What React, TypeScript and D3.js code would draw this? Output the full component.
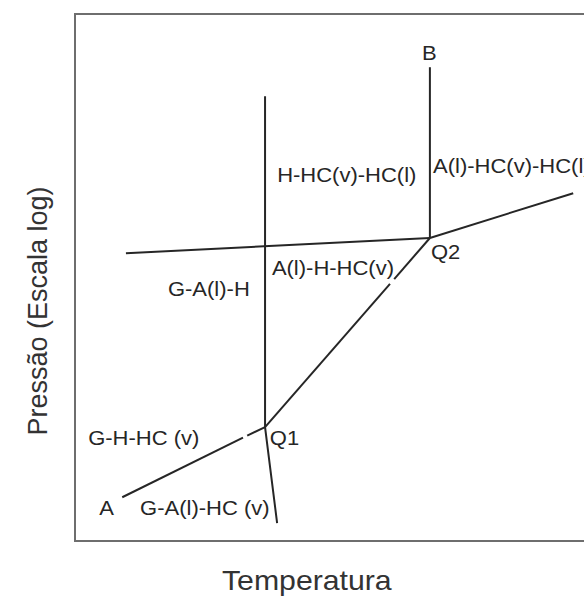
import React from 'react';
import * as d3 from 'd3';

// phase boundary segments, in arbitrary units (temperature, log pressure)
const lineA_Q1: [number, number][][] = [
  [[9.0, 8.3], [32.0, 19.6]],
  [[32.8, 20.0], [36.2, 21.6]],
];
const lineQ1_Q2: [number, number][][] = [
  [[36.2, 21.6], [60.0, 48.8]],
  [[60.8, 49.7], [67.6, 57.5]],
];
const lineQ2_right: [number, number][] = [[67.6, 57.5], [94.9, 66.0]];
const lineHoriz: [number, number][] = [[9.7, 54.6], [67.6, 57.5]];
const lineH: [number, number][] = [[36.2, 84.4], [36.2, 21.6], [38.5, 3.4]];
const lineB: [number, number][] = [[67.6, 89.9], [67.6, 57.5]];

const labelTexts = [
  'B', 'H-HC(v)-HC(l)', 'A(l)-HC(v)-HC(l)', 'Q2', 'A(l)-H-HC(v)',
  'G-A(l)-H', 'G-H-HC (v)', 'Q1', 'A', 'G-A(l)-HC (v)',
];
const labelX = [66.1, 38.5, 68.2, 67.8, 37.5, 17.7, 2.5, 37.1, 4.6, 12.4];
const labelY = [91.3, 68.1, 69.8, 53.6, 50.5, 46.5, 18.2, 18.2, 4.9, 4.9];

const xTitle = 'Temperatura';
const yTitle = 'Pressão (Escala log)';

const W = 584;
const H = 597;
const frame = { left: 75, right: 600, top: 14, bottom: 541 };

export default function App() {
  const x = d3.scaleLinear().domain([0, 100]).range([frame.left, frame.right]);
  const y = d3.scaleLinear().domain([0, 100]).range([frame.bottom, frame.top]);
  const line = d3.line<[number, number]>().x(d => x(d[0])).y(d => y(d[1]));

  const segments: [number, number][][] = [
    ...lineA_Q1,
    ...lineQ1_Q2,
    lineQ2_right,
    lineHoriz,
    lineH,
    lineB,
  ];

  const ink = '#262626';
  const font = '"Liberation Sans", Arial, sans-serif';

  return (
    <svg
      width={W}
      height={H}
      style={{ position: 'absolute', left: 0, top: 0, background: '#fff' }}
    >
      <rect width={W} height={H} fill="#fff" />
      <rect
        x={frame.left}
        y={frame.top}
        width={frame.right - frame.left}
        height={frame.bottom - frame.top}
        fill="none"
        stroke="#6e6e6e"
        strokeWidth={2}
      />
      {segments.map((s, i) => (
        <path key={i} d={line(s)!} fill="none" stroke={ink} strokeWidth={2} />
      ))}
      {labelTexts.map((t, i) => (
        <text
          key={t}
          transform={`translate(${x(labelX[i])},${y(labelY[i])}) scale(1.1,1)`}
          fontFamily={font}
          fontSize={20}
          fill={ink}
        >
          {t}
        </text>
      ))}
      <text
        transform="translate(222,590) scale(1.08,1)"
        fontFamily={font}
        fontSize={28}
        fill="#333"
      >
        {xTitle}
      </text>
      <text
        transform="translate(47,311) rotate(-90)"
        textAnchor="middle"
        fontFamily={font}
        fontSize={27}
        fill="#333"
      >
        {yTitle}
      </text>
    </svg>
  );
}
